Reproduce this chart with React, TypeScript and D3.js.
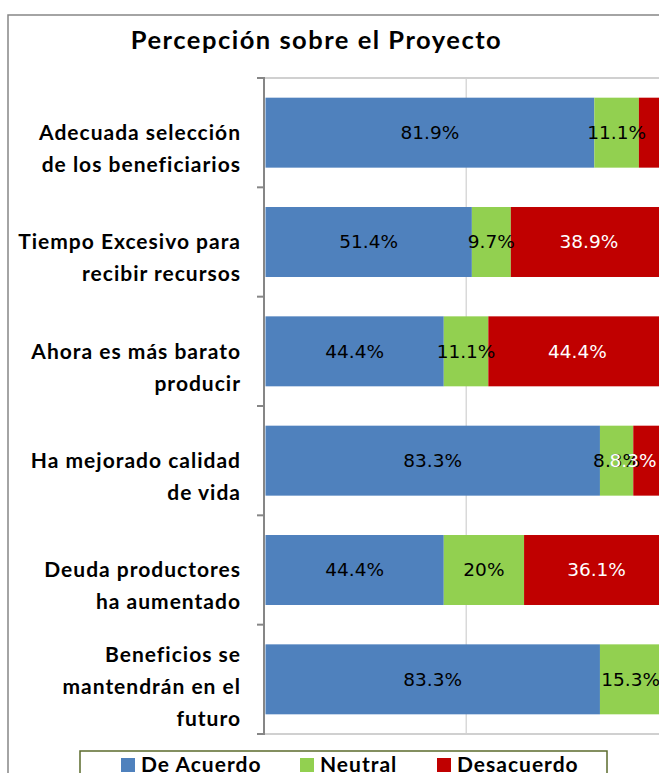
import React, { useEffect, useRef } from "react";
import * as d3 from "d3";

const categoryLines: string[][] = [
  ["Adecuada selección", "de los beneficiarios"],
  ["Tiempo Excesivo para", "recibir recursos"],
  ["Ahora es más barato", "producir"],
  ["Ha mejorado calidad", "de vida"],
  ["Deuda productores", "ha aumentado"],
  ["Beneficios se", "mantendrán en el", "futuro"],
];

const deAcuerdo = [81.9, 51.4, 44.4, 83.3, 44.4, 83.3];
const neutral = [11.1, 9.7, 11.1, 8.3, 20, 15.3];
const desacuerdo = [7.0, 38.9, 44.4, 8.3, 36.1, 1.4];

const seriesNames = ["De Acuerdo", "Neutral", "Desacuerdo"];
const seriesColors = ["#4F81BD", "#92D050", "#C00000"];
const labelColors = ["#000000", "#000000", "#FFFFFF"];

const W = 659;
const H = 773;

function App() {
  const ref = useRef<SVGSVGElement>(null);

  useEffect(() => {
    const svg = d3.select(ref.current);
    svg.selectAll("*").remove();

    const top = 78;
    const bottom = 734;
    const axisX = 264;

    const rows = categoryLines.map((lines, i) => ({
      key: String(i),
      lines,
      values: [deAcuerdo[i], neutral[i], desacuerdo[i]],
    }));

    const y = d3
      .scaleBand()
      .domain(rows.map((r) => r.key))
      .range([top, bottom])
      .paddingInner(0.36)
      .paddingOuter(0.18);

    const x = d3.scaleLinear().domain([0, 100]).range([265.5, 667]);

    // outer chart border
    svg
      .append("rect")
      .attr("x", 8)
      .attr("y", 15)
      .attr("width", W)
      .attr("height", H)
      .attr("fill", "white")
      .attr("stroke", "#868686")
      .attr("stroke-width", 1.5);

    svg
      .append("text")
      .attr("x", 316.5)
      .attr("y", 49)
      .attr("text-anchor", "middle")
      .style("font-family", "Lato, sans-serif")
      .style("font-weight", "bold")
      .style("font-size", "25.5px")
      .style("letter-spacing", "1.5px")
      .text("Percepción sobre el Proyecto");

    // gridlines + top/bottom lines
    const grid = svg.append("g");
    grid
      .selectAll("line.v")
      .data([50, 100])
      .enter()
      .append("line")
      .attr("x1", (d) => x(d))
      .attr("x2", (d) => x(d))
      .attr("y1", top)
      .attr("y2", bottom)
      .attr("stroke", "#d9d9d9")
      .attr("stroke-width", 1.5);
    grid
      .selectAll("line.h")
      .data([top, bottom])
      .enter()
      .append("line")
      .attr("x1", axisX)
      .attr("x2", W)
      .attr("y1", (d) => d)
      .attr("y2", (d) => d)
      .attr("stroke", "#d0d0d0")
      .attr("stroke-width", 2);

    // stacked bars
    const fmt = (v: number) => `${v}%`;
    const rowG = svg
      .selectAll("g.row")
      .data(rows)
      .enter()
      .append("g")
      .attr("class", "row");

    rowG.each(function (r) {
      const g = d3.select(this);
      let acc = 0;
      r.values.forEach((v, k) => {
        const x0 = x(acc);
        const x1 = x(acc + v);
        acc += v;
        g.append("rect")
          .attr("x", x0)
          .attr("y", y(r.key)!)
          .attr("width", x1 - x0)
          .attr("height", y.bandwidth())
          .attr("fill", seriesColors[k]);
      });
      acc = 0;
      r.values.forEach((v, k) => {
        const cx = x(acc + v / 2);
        acc += v;
        if (v < 8) return;
        g.append("text")
          .attr("x", Math.min(cx, W - 26))
          .attr("y", y(r.key)! + y.bandwidth() / 2)
          .attr("dy", "0.35em")
          .attr("text-anchor", "middle")
          .attr("fill", labelColors[k])
          .style("font-family", "'DejaVu Sans', sans-serif")
          .style("font-size", "18.5px")
          .text(fmt(v));
      });
    });

    // category axis
    const axis = svg.append("g");
    axis
      .append("line")
      .attr("x1", axisX)
      .attr("x2", axisX)
      .attr("y1", top - 1)
      .attr("y2", bottom + 1)
      .attr("stroke", "#868686")
      .attr("stroke-width", 2);
    const ticks = d3.range(rows.length + 1).map((i) => top + (i * (bottom - top)) / rows.length);
    axis
      .selectAll("line.tick")
      .data(ticks)
      .enter()
      .append("line")
      .attr("x1", axisX - 7)
      .attr("x2", axisX)
      .attr("y1", (d) => d)
      .attr("y2", (d) => d)
      .attr("stroke", "#868686")
      .attr("stroke-width", 2);

    const lab = svg
      .selectAll("text.cat")
      .data(rows)
      .enter()
      .append("text")
      .attr("class", "cat")
      .attr("text-anchor", "end")
      .style("font-family", "Lato, sans-serif")
      .style("font-weight", "bold")
      .style("font-size", "21px")
      .style("letter-spacing", "1px");
    lab.each(function (r) {
      const n = r.lines.length;
      const c = y(r.key)! + y.bandwidth() / 2 + (n === 3 ? 7 : 16);
      d3.select(this)
        .selectAll("tspan")
        .data(r.lines)
        .enter()
        .append("tspan")
        .attr("x", 241)
        .attr("y", (_, i) => c + (i - (n - 1) / 2) * 32)
        .attr("dy", "0.35em")
        .text((d) => d);
    });

    // legend
    const leg = svg.append("g");
    leg
      .append("rect")
      .attr("x", 80)
      .attr("y", 751)
      .attr("width", 527)
      .attr("height", 40)
      .attr("fill", "white")
      .attr("stroke", "#5b6b2c")
      .attr("stroke-width", 1.5);
    const legX = [121, 300, 437];
    seriesNames.forEach((name, k) => {
      leg
        .append("rect")
        .attr("x", legX[k])
        .attr("y", 758)
        .attr("width", 14)
        .attr("height", 14)
        .attr("fill", seriesColors[k]);
      leg
        .append("text")
        .attr("x", legX[k] + 20)
        .attr("y", 772)
        .style("font-family", "Lato, sans-serif")
        .style("font-weight", "bold")
        .style("font-size", "21px")
        .style("letter-spacing", "1px")
        .text(name);
    });
  }, []);

  return (
    <div style={{ position: "absolute", left: 0, top: 0 }}>
      <svg ref={ref} width={W} height={H} style={{ display: "block" }} />
    </div>
  );
}

export default App;
